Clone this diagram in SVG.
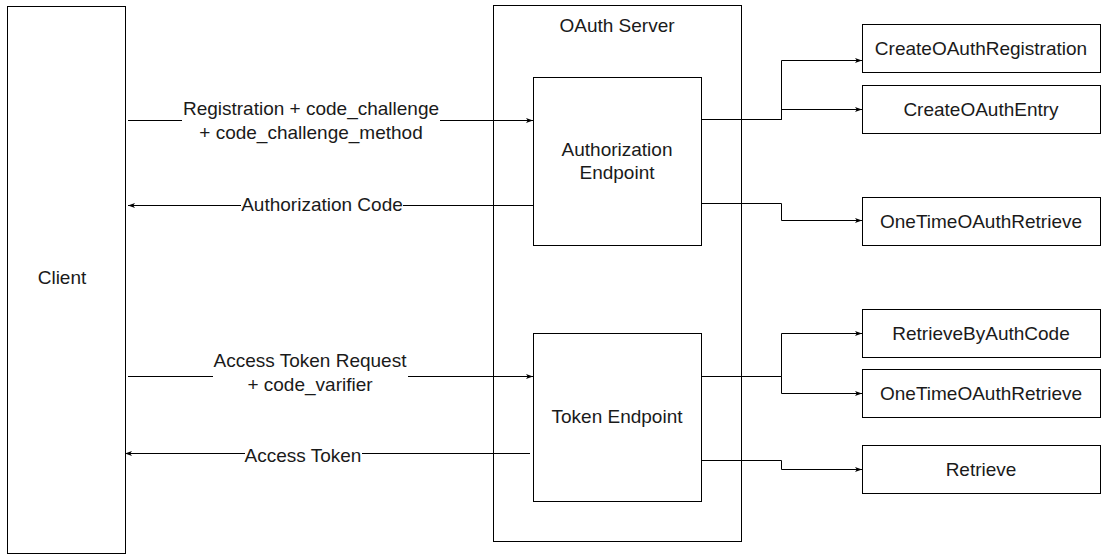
<svg xmlns="http://www.w3.org/2000/svg" width="1107" height="560" viewBox="0 0 1107 560">
<style>
.box{fill:#fff;stroke:#000;stroke-width:1}
.t{font-family:"Liberation Sans",Arial,sans-serif;font-size:19px;fill:#1a1a1a;text-anchor:middle}
.c{fill:none;stroke:#000;stroke-width:1}
.bg{fill:#fff}
</style>
<defs>
<marker id="ah" viewBox="0 0 10 10" refX="10" refY="5" markerWidth="7" markerHeight="7" markerUnits="userSpaceOnUse" orient="auto">
<path d="M0,1.5 L10,5 L0,8.5 L2.5,5 Z" fill="#000"/>
</marker>
</defs>
<rect width="1107" height="560" fill="#fff"/>
<g id="client"><rect class="box" x="7.5" y="6.5" width="118" height="547"/><text class="t" x="62" y="284">Client</text></g>
<g id="oauth-server"><rect class="box" x="493.5" y="5.5" width="248" height="536"/><text class="t" x="617" y="32">OAuth Server</text></g>
<g id="authorization-endpoint"><rect class="box" x="533.5" y="77.5" width="168" height="168"/><text class="t" x="617" y="156">Authorization</text><text class="t" x="617" y="179">Endpoint</text></g>
<g id="token-endpoint"><rect class="box" x="533.5" y="333.5" width="168" height="168"/><text class="t" x="617" y="423">Token Endpoint</text></g>
<g id="create-oauth-registration"><rect class="box" x="862.5" y="24.5" width="238" height="48"/><text class="t" x="981" y="55">CreateOAuthRegistration</text></g>
<g id="create-oauth-entry"><rect class="box" x="862.5" y="85.5" width="238" height="48"/><text class="t" x="981" y="116">CreateOAuthEntry</text></g>
<g id="one-time-oauth-retrieve-1"><rect class="box" x="862.5" y="197.5" width="238" height="48"/><text class="t" x="981" y="228">OneTimeOAuthRetrieve</text></g>
<g id="retrieve-by-auth-code"><rect class="box" x="862.5" y="309.5" width="238" height="48"/><text class="t" x="981" y="340">RetrieveByAuthCode</text></g>
<g id="one-time-oauth-retrieve-2"><rect class="box" x="862.5" y="369.5" width="238" height="48"/><text class="t" x="981" y="400">OneTimeOAuthRetrieve</text></g>
<g id="retrieve"><rect class="box" x="862.5" y="445.5" width="238" height="48"/><text class="t" x="981" y="476">Retrieve</text></g>
<g id="connectors">
<path class="c" d="M128,120.5 H533" marker-end="url(#ah)"/>
<path class="c" d="M533,205.5 H128" marker-end="url(#ah)"/>
<path class="c" d="M128,376.5 H533" marker-end="url(#ah)"/>
<path class="c" d="M530,453.5 H125" marker-end="url(#ah)"/>
<path class="c" d="M701,119.5 H781.5 V60.5 H862" marker-end="url(#ah)"/>
<path class="c" d="M701,119.5 H781.5 V109.5 H862" marker-end="url(#ah)"/>
<path class="c" d="M701,203.5 H781.5 V220.5 H862" marker-end="url(#ah)"/>
<path class="c" d="M701,376.5 H781.5 V333.5 H862" marker-end="url(#ah)"/>
<path class="c" d="M701,376.5 H781.5 V393.5 H862" marker-end="url(#ah)"/>
<path class="c" d="M701,460.5 H781.5 V469.5 H862" marker-end="url(#ah)"/>
<rect class="bg" x="182" y="97" width="258" height="44"/>
<text class="t" x="311" y="115">Registration + code_challenge</text>
<text class="t" x="311" y="139">+ code_challenge_method</text>
<rect class="bg" x="241" y="195" width="162" height="20"/>
<text class="t" x="322" y="211">Authorization Code</text>
<rect class="bg" x="213" y="350" width="195" height="44"/>
<text class="t" x="310" y="367">Access Token Request</text>
<text class="t" x="310" y="391">+ code_varifier</text>
<rect class="bg" x="245" y="444" width="117" height="20"/>
<text class="t" x="303" y="462">Access Token</text>
</g>
</svg>
